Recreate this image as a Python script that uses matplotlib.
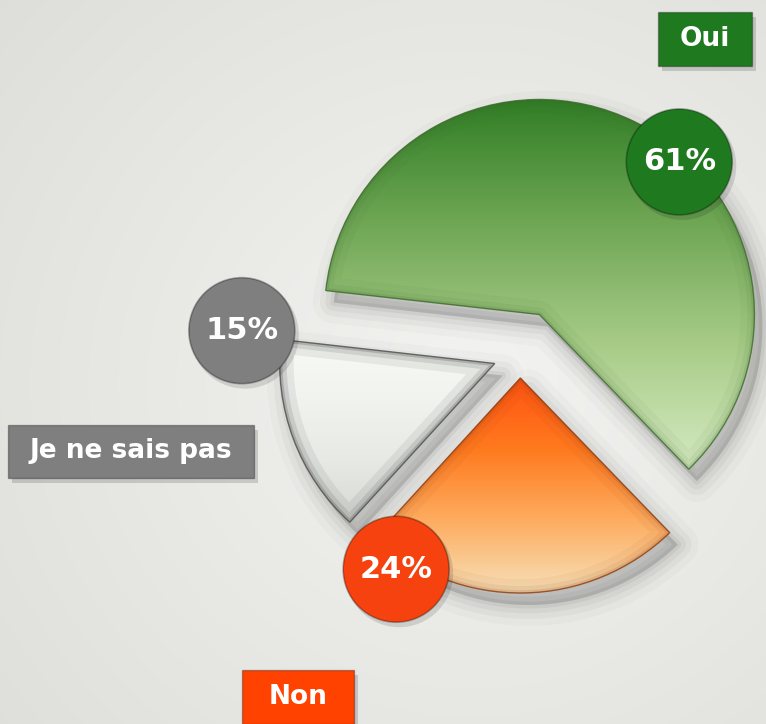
import numpy as np
import matplotlib.pyplot as plt
from matplotlib.colors import LinearSegmentedColormap
from matplotlib.patches import Wedge, Circle, Rectangle

# données
categories = ['Oui', 'Je ne sais pas', 'Non']
values = [61, 15, 24]
pct_labels = ['61%', '15%', '24%']

# couleurs
box_colors = ['#1f7a1f', '#7f7f7f', '#ff4200']
circle_colors = ['#1f7a1f', '#7f7f7f', '#f5420f']
grad_colors = [['#d6eac2', '#a8cc88', '#6ea654', '#2f7d24'],
               ['#d4d7d2', '#e6e9e4', '#f1f3ef', '#f8faf6'],
               ['#f7e2bc', '#fdae62', '#ff7a1e', '#ff5212']]
edge_colors = ['#3c6a2c', '#4a4a4a', '#8a3a10']
bevel = [1.0, 1.8, 1.0]

W, H = 766, 724
fig = plt.figure(figsize=(W / 100, H / 100), dpi=100)
ax = fig.add_axes([0, 0, 1, 1])

# fond gris dégradé
yy, xx = np.mgrid[0:H, 0:W]
d = np.hypot((xx - 470) / W, (yy - 340) / H)
bg = np.clip(1 - d * 0.9, 0, 1)
c0 = np.array([214, 214, 209]) / 255
c1 = np.array([243, 243, 241]) / 255
img = c0 + (c1 - c0) * bg[..., None]
ax.imshow(img, extent=(0, W, 0, H), origin='lower', zorder=0)

# camembert éclaté
center = (520, 370)
radius = 215
wedges, _ = ax.pie(values, startangle=-46, counterclock=True, radius=radius,
                   center=center, explode=[44, 27, 24],
                   colors=[g[1] for g in grad_colors],
                   wedgeprops=dict(linewidth=0))

for i, w in enumerate(wedges):
    cx, cy = w.center
    t1, t2 = w.theta1, w.theta2
    # ombre douce
    for lw, a in [(30, 0.02), (20, 0.03), (12, 0.04), (5, 0.05)]:
        ax.add_patch(Wedge((cx + 8, cy - 12), radius, t1, t2, facecolor=(0, 0, 0, a),
                           edgecolor=(0, 0, 0, a), linewidth=lw, joinstyle='round', zorder=1))
    w.set_zorder(2)
    # dégradé vertical sur la hauteur du secteur
    verts = w.get_patch_transform().transform(w.get_path().vertices)
    x0, x1 = verts[:, 0].min(), verts[:, 0].max()
    y0, y1 = verts[:, 1].min(), verts[:, 1].max()
    cmap = LinearSegmentedColormap.from_list('g%d' % i, grad_colors[i])
    grad = np.linspace(0, 1, 256)[:, None] * np.ones((1, 4))
    im = ax.imshow(grad, cmap=cmap, extent=(x0 - 2, x1 + 2, y0 - 2, y1 + 2),
                   origin='lower', aspect='auto', zorder=3, interpolation='bilinear')
    im.set_clip_path(w)
    # biseau
    for lw, a in [(20, 0.05), (10, 0.08), (4, 0.14)]:
        b = Wedge((cx, cy), radius, t1, t2, facecolor='none', edgecolor=edge_colors[i],
                  alpha=min(a * bevel[i], 1), linewidth=lw, joinstyle='round', zorder=4)
        ax.add_patch(b)
        b.set_clip_path(w)
    ax.add_patch(Wedge((cx, cy), radius, t1, t2, facecolor='none',
                       edgecolor=edge_colors[i], linewidth=1.0, alpha=0.8, zorder=5))

# pastilles de pourcentage
lab_ang = [47.5, 172.6, 237]
lab_dist = [207, 255, 228]
for i, w in enumerate(wedges):
    cx, cy = w.center
    a = np.deg2rad(lab_ang[i])
    px, py = cx + lab_dist[i] * np.cos(a), cy + lab_dist[i] * np.sin(a)
    ax.add_patch(Circle((px + 3, py - 4), 54, facecolor=(0, 0, 0, 0.12), edgecolor='none', zorder=6))
    ax.add_patch(Circle((px, py), 53, facecolor=circle_colors[i], edgecolor=(0, 0, 0, 0.3),
                        linewidth=1.2, zorder=7))
    ax.text(px, py, pct_labels[i], color='white', fontsize=22, fontweight='bold',
            ha='center', va='center', zorder=8)

# étiquettes des catégories
box_pos = [(705, 685), (131, 273), (298, 27)]
box_size = [(94, 54), (246, 53), (112, 54)]
for i, cat in enumerate(categories):
    bx, by = box_pos[i]
    bw, bh = box_size[i]
    ax.add_patch(Rectangle((bx - bw / 2 + 4, by - bh / 2 - 5), bw, bh,
                           facecolor=(0, 0, 0, 0.15), edgecolor='none', zorder=6))
    ax.add_patch(Rectangle((bx - bw / 2, by - bh / 2), bw, bh, facecolor=box_colors[i],
                           edgecolor=(0, 0, 0, 0.3), linewidth=1, zorder=7))
    ax.text(bx, by, cat, color='white', fontsize=19, fontweight='bold',
            ha='center', va='center', zorder=8)

ax.set_xlim(0, W)
ax.set_ylim(0, H)
ax.set_aspect('equal')
ax.axis('off')
fig.savefig('out.png', dpi=100)
